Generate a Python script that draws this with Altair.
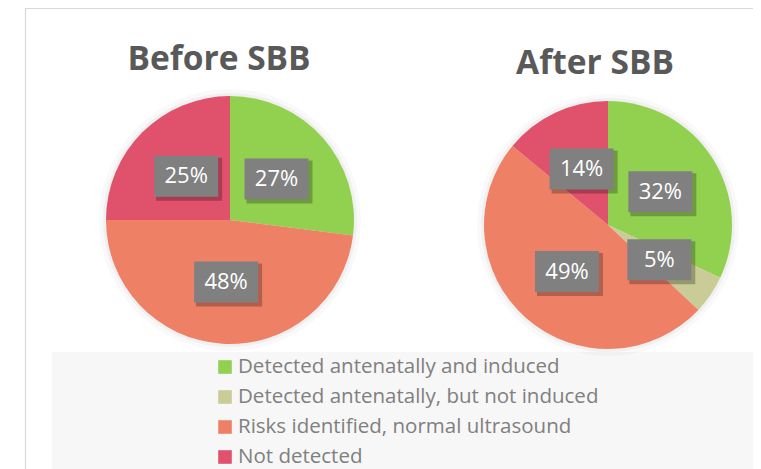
import math
import altair as alt
import pandas as pd

categories = [
    "Detected antenatally and induced",
    "Detected antenatally, but not induced",
    "Risks identified, normal ultrasound",
    "Not detected",
]
before_values = [27, 0, 48, 25]
after_values = [32, 5, 49, 14]
panel_titles = ["Before SBB", "After SBB"]
colors = ["#92D050", "#C9CC96", "#EE8066", "#E0516B"]

FONT = "Open Sans"
W, H = 745, 461

# layout (pixels inside the chart)
cx_expr = "datum.panel === 'Before SBB' ? 222 : 600"
cy_expr = "datum.panel === 'Before SBB' ? 212 : 217"
tx_expr = "datum.panel === 'Before SBB' ? 211 : 587"
ty_expr = "datum.panel === 'Before SBB' ? 62 : 66"

rows = []
for p, vals in zip(panel_titles, [before_values, after_values]):
    for i, (c, v) in enumerate(zip(categories, vals)):
        rows.append({"panel": p, "category": c, "value": v, "order": i})
pie_df = pd.DataFrame(rows)

xs = alt.Scale(domain=[0, W], range=[0, W], nice=False, zero=False)
ys = alt.Scale(domain=[0, H], range=[0, H], nice=False, zero=False)
ts = alt.Scale(domain=[0, 100], range=[0, 2 * math.pi], zero=False, nice=False)
color_scale = alt.Scale(domain=categories, range=colors)

pies = (
    alt.Chart(pie_df)
    .transform_window(cum="sum(value)", groupby=["panel"],
                      sort=[alt.SortField("order")], frame=[None, 0])
    .transform_calculate(t0="datum.cum - datum.value", t1="datum.cum",
                         mid="datum.cum - datum.value/2",
                         cx=cx_expr, cy=cy_expr)
)
pos = dict(x=alt.X("cx:Q", scale=xs, axis=None), y=alt.Y("cy:Q", scale=ys, axis=None))

halo1 = pies.mark_arc(outerRadius=131, color="#000000", opacity=0.022).encode(
    theta=alt.Theta("t0:Q", scale=ts), theta2="t1:Q", **pos)
halo2 = pies.mark_arc(outerRadius=127, color="#000000", opacity=0.035).encode(
    theta=alt.Theta("t0:Q", scale=ts), theta2="t1:Q", **pos)
arcs = pies.mark_arc(outerRadius=124).encode(
    theta=alt.Theta("t0:Q", scale=ts), theta2="t1:Q",
    color=alt.Color("category:N", scale=color_scale, legend=None), **pos)

lab = (
    pies.transform_filter("datum.value > 0")
    .transform_calculate(ang="2*PI*datum.mid/100")
    .transform_calculate(lx="datum.cx + 62*sin(datum.ang)",
                         ly="datum.cy - 62*cos(datum.ang)",
                         label="datum.value + '%'")
    .transform_calculate(bx0="datum.lx-32", bx1="datum.lx+32",
                         by0="datum.ly-20.5", by1="datum.ly+20.5",
                         sx0="datum.lx-30", sx1="datum.lx+36",
                         sy0="datum.ly-18.5", sy1="datum.ly+24.5")
)
box_shadow = lab.mark_rect(color="#000000", opacity=0.25).encode(
    x=alt.X("sx0:Q", scale=xs, axis=None), x2="sx1:Q",
    y=alt.Y("sy0:Q", scale=ys, axis=None), y2="sy1:Q")
box = lab.mark_rect(color="#808080").encode(
    x=alt.X("bx0:Q", scale=xs, axis=None), x2="bx1:Q",
    y=alt.Y("by0:Q", scale=ys, axis=None), y2="by1:Q")
label = lab.mark_text(font=FONT, fontSize=22, color="#FFFFFF",
                      align="center", baseline="middle").encode(
    x=alt.X("lx:Q", scale=xs, axis=None),
    y=alt.Y("ly:Q", scale=ys, axis=None),
    text="label:N")

title_df = pd.DataFrame({"panel": panel_titles})
titles = (
    alt.Chart(title_df)
    .transform_calculate(tx=tx_expr, ty=ty_expr)
    .mark_text(font=FONT, fontSize=33.5, fontWeight="bold", color="#595959",
               align="center", baseline="alphabetic")
    .encode(x=alt.X("tx:Q", scale=xs, axis=None),
            y=alt.Y("ty:Q", scale=ys, axis=None),
            text="panel:N")
)

one = pd.DataFrame({"k": [0]})
border_v = alt.Chart(one).mark_rule(color="#D9D9D9", strokeWidth=1.2).encode(
    x=alt.value(17.5), y=alt.value(0), y2=alt.value(H))
border_h = alt.Chart(one).mark_rule(color="#D9D9D9", strokeWidth=1.2).encode(
    x=alt.value(17.5), x2=alt.value(W), y=alt.value(0.5))
legend_bg = alt.Chart(one).mark_rect(color="#F7F7F7").encode(
    x=alt.value(44), x2=alt.value(W), y=alt.value(344), y2=alt.value(H))

leg_df = pd.DataFrame({"category": categories})
leg_y = alt.Y("category:N", sort=categories,
              scale=alt.Scale(type="point", domain=categories, range=[359, 449], padding=0),
              axis=None)
leg_sq = alt.Chart(leg_df).mark_square(size=185, opacity=1).encode(
    x=alt.value(217), y=leg_y,
    color=alt.Color("category:N", scale=color_scale, legend=None))
leg_txt = alt.Chart(leg_df).mark_text(align="left", baseline="middle", font=FONT,
                                      fontSize=20.5, color="#808080").encode(
    x=alt.value(230), y=leg_y, text="category:N")

chart = (
    alt.layer(legend_bg, border_v, border_h, halo1, halo2, arcs,
              box_shadow, box, label, titles, leg_sq, leg_txt)
    .resolve_scale(x="independent", y="independent")
    .properties(width=W, height=H, padding=0,
                autosize=alt.AutoSizeParams(type="none"),
                background="#FFFFFF")
    .configure_view(stroke="transparent")
)

chart.save("out.html", embed_options={"renderer": "svg", "actions": False})
